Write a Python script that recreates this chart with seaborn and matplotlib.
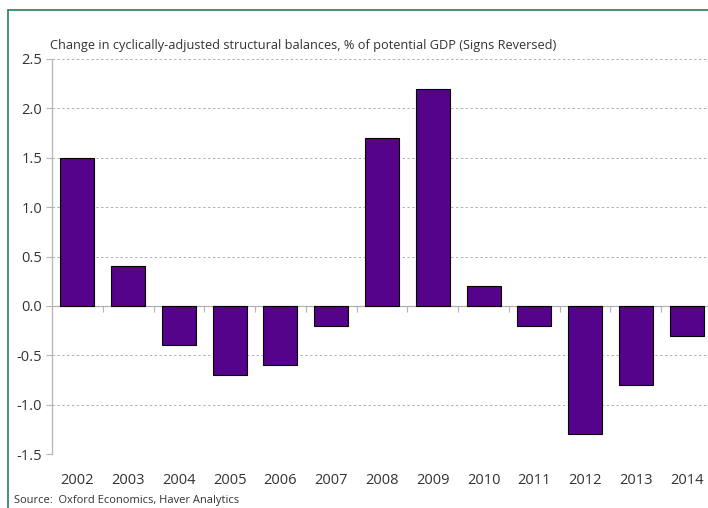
import matplotlib
matplotlib.use("Agg")
import matplotlib.pyplot as plt
import seaborn as sns
import pandas as pd
from matplotlib.lines import Line2D

years = ["2002", "2003", "2004", "2005", "2006", "2007", "2008",
         "2009", "2010", "2011", "2012", "2013", "2014"]
values = [1.5, 0.4, -0.4, -0.7, -0.6, -0.2, 1.7, 2.2, 0.2, -0.2, -1.3, -0.8, -0.3]
yticks = [2.5, 2.0, 1.5, 1.0, 0.5, 0.0, -0.5, -1.0, -1.5]
title = "Change in cyclically-adjusted structural balances, % of potential GDP (Signs Reversed)"
source = "Source:  Oxford Economics, Haver Analytics"

sns.set_style("white")
plt.rcParams["font.family"] = ["Open Sans", "DejaVu Sans"]

df = pd.DataFrame({"year": years, "value": values})

W, H = 708, 508
fig = plt.figure(figsize=(W / 100, H / 100), dpi=100)
ax = fig.add_axes([52 / W, (H - 454) / H, 660 / W, (454 - 59) / H])

sns.barplot(data=df, x="year", y="value", color="#55038A", width=0.67,
            edgecolor="black", linewidth=0.8, saturation=1, ax=ax, zorder=3)

ax.set_xlim(-0.5, len(years) - 0.5)
ax.set_ylim(-1.5, 2.5)
ax.set_yticks(yticks)
ax.set_yticklabels([f"{v:.1f}" for v in yticks])
ax.yaxis.grid(True, linestyle=(0, (2.5, 2.5)), color="#b0b0b0", linewidth=0.7, zorder=0)
ax.set_axisbelow(True)
ax.set_xlabel("")
ax.set_ylabel("")

for s in ["top", "right", "bottom"]:
    ax.spines[s].set_visible(False)
ax.spines["left"].set_color("#b5b5b5")
ax.spines["left"].set_linewidth(0.9)

ax.tick_params(axis="y", left=True, length=4, color="#b5b5b5", labelsize=10.5,
               labelcolor="#333333", pad=3)
ax.tick_params(axis="x", bottom=False, length=0, labelsize=10.5, labelcolor="#333333", pad=14)

# zero line with tick marks between categories
sec = ax.secondary_xaxis(1.5 / 4.0)
sec.set_xticks([i + 0.5 for i in range(len(years) - 1)])
sec.set_xticklabels([])
sec.spines["bottom"].set_color("#b5b5b5")
sec.spines["bottom"].set_linewidth(0.9)
sec.tick_params(axis="x", length=4, color="#b5b5b5", direction="out")

fig.text(50 / W, (H - 45) / H, title, fontsize=9.2, color="#333333", va="center", ha="left")
fig.text(14 / W, (H - 501) / H, source, fontsize=8.0, color="#333333", va="center", ha="left")

green = "#2a7d5a"
fig.add_artist(Line2D([8 / W, 1.0], [(H - 10) / H, (H - 10) / H], color=green, linewidth=1.2,
                      transform=fig.transFigure))
fig.add_artist(Line2D([8 / W, 8 / W], [(H - 10) / H, 0], color=green, linewidth=1.2,
                      transform=fig.transFigure))

fig.savefig("out.png", dpi=100)
